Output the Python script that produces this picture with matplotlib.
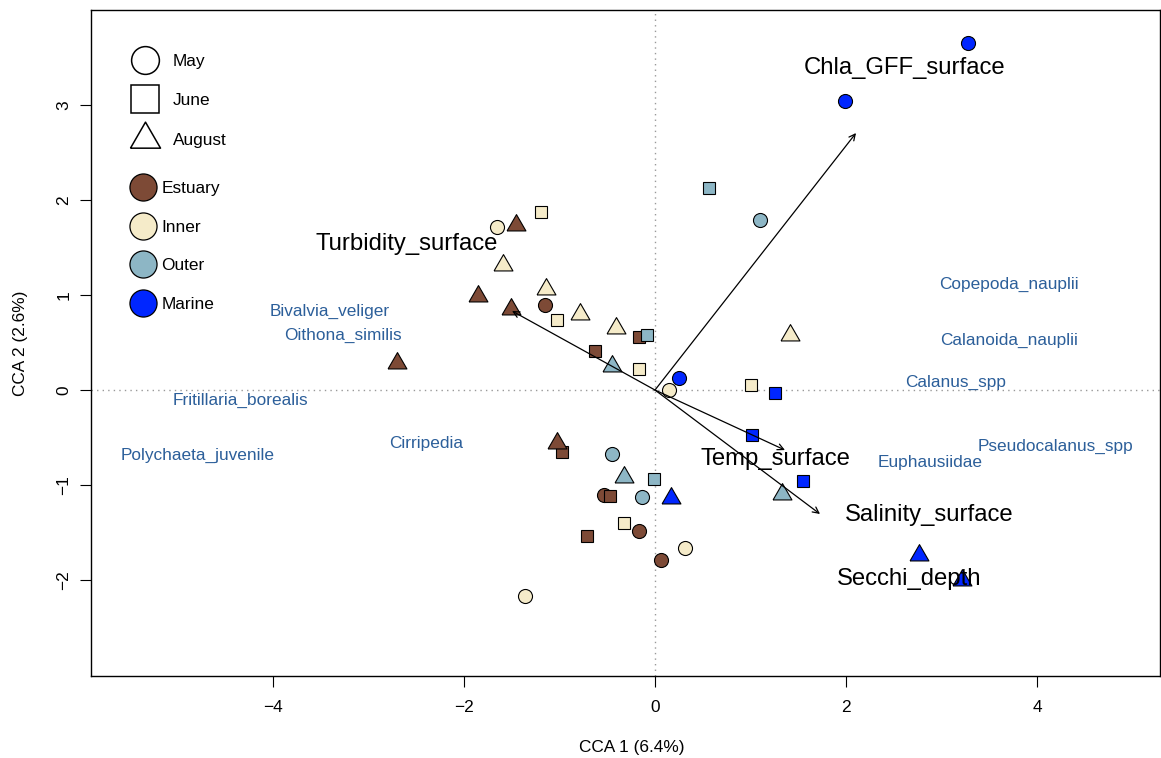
import matplotlib.pyplot as plt
from matplotlib.lines import Line2D

plt.rcParams["font.family"] = ["Liberation Sans", "DejaVu Sans"]

# site scores on the first two CCA axes (drawing order)
cca1 = [3.277, 1.990, 0.251, -1.152, -0.534, -0.168, 0.063, 1.099, -0.450, -0.136,
        -1.654, 0.147, 0.314, -1.361,
        1.016, 1.257, 1.550, -0.168, -0.628, -0.974, -0.471, -0.712, 0.565, -0.084, -0.010,
        -1.194, -1.026, -0.168, 1.005, -0.325,
        0.168, 2.764, 3.215, -1.455, -1.853, -1.508, -2.702, -1.026, -0.450, -0.325, 1.330,
        -1.592, -1.141, -0.785, -0.408, 1.414]
cca2 = [3.653, 3.042, 0.126, 0.895, -1.105, -1.484, -1.789, 1.789, -0.674, -1.126,
        1.716, 0.000, -1.663, -2.168,
        -0.474, -0.032, -0.958, 0.558, 0.411, -0.653, -1.116, -1.537, 2.126, 0.579, -0.937,
        1.874, 0.737, 0.221, 0.053, -1.400,
        -1.136, -1.736, -1.999, 1.738, 0.991, 0.854, 0.285, -0.557, 0.254, -0.915, -1.094,
        1.317, 1.064, 0.801, 0.654, 0.580]
site = (["Marine"] * 3 + ["Estuary"] * 4 + ["Outer"] * 3 + ["Inner"] * 4
        + ["Marine"] * 3 + ["Estuary"] * 5 + ["Outer"] * 3 + ["Inner"] * 5
        + ["Marine"] * 3 + ["Estuary"] * 5 + ["Outer"] * 3 + ["Inner"] * 5)
month = ["May"] * 14 + ["June"] * 16 + ["August"] * 16

# species scores (labels only)
species = ["Copepoda_nauplii", "Calanoida_nauplii", "Calanus_spp", "Pseudocalanus_spp",
           "Euphausiidae", "Bivalvia_veliger", "Oithona_similis", "Fritillaria_borealis",
           "Polychaeta_juvenile", "Cirripedia"]
sp_x = [3.707, 3.707, 3.152, 4.199, 2.880, -3.403, -3.267, -4.346, -4.785, -2.398]
sp_y = [1.116, 0.526, 0.084, -0.589, -0.758, 0.832, 0.579, -0.105, -0.684, -0.558]

# environmental biplot arrows and their labels
env_arrows = ["Chla_GFF_surface", "Turbidity_surface", "Temp_surface", "Salinity_surface"]
arrow_x = [2.105, -1.497, 1.361, 1.728]
arrow_y = [2.705, 0.832, -0.632, -1.305]
env_labels = ["Chla_GFF_surface", "Turbidity_surface", "Temp_surface", "Salinity_surface", "Secchi_depth"]
env_lab_x = [2.618, -2.597, 1.257, 2.874, 2.660]
env_lab_y = [3.390, 1.537, -0.726, -1.316, -1.989]

sites = ["Estuary", "Inner", "Outer", "Marine"]
site_colors = {"Estuary": "#7d4a36", "Inner": "#f5ebc9", "Outer": "#8db6c5", "Marine": "#0026ff"}
months = ["May", "June", "August"]

# equilateral triangle centred on its centroid (like R's pch 24)
tri = [(-1, -0.577), (1, -0.577), (0, 1.155), (-1, -0.577)]
month_markers = {"May": "o", "June": "s", "August": tri}
month_sizes = {"May": 10.1, "June": 8.9, "August": 15.7}

fig = plt.figure(figsize=(11.61, 7.58), dpi=100)
ax = fig.add_axes([0.0784, 0.1082, 0.9207, 0.8786])

ax.axhline(0, color="#999999", ls=(0, (1, 3)), lw=1, zorder=0)
ax.axvline(0, color="#999999", ls=(0, (1, 3)), lw=1, zorder=0)

for i in range(len(cca1)):
    ax.plot(cca1[i], cca2[i], ls="none", marker=month_markers[month[i]],
            ms=month_sizes[month[i]], mfc=site_colors[site[i]], mec="black", mew=0.8, zorder=2)

for name, x, y in zip(species, sp_x, sp_y):
    ax.text(x, y, name, color="#2c5f9a", fontsize=12.4, ha="center", va="center", zorder=3)

for name, x, y in zip(env_labels, env_lab_x, env_lab_y):
    ax.text(x, y, name, color="black", fontsize=17.2, ha="center", va="center", zorder=3)

for name, x, y in zip(env_arrows, arrow_x, arrow_y):
    ax.annotate("", xy=(x, y), xytext=(0, 0),
                arrowprops=dict(arrowstyle="->", lw=0.9, color="black",
                                shrinkA=0, shrinkB=0, mutation_scale=11), zorder=4)

ax.set_xlim(-5.906, 5.288)
ax.set_ylim(-3.01, 4.0)
ax.set_xticks([-4, -2, 0, 2, 4])
ax.set_yticks([-2, -1, 0, 1, 2, 3])
ax.tick_params(length=8, width=0.8, labelsize=12.4)
ax.tick_params(axis="x", pad=9)
ax.tick_params(axis="y", pad=6)
plt.setp(ax.get_yticklabels(), rotation=90, va="center")
for sp in ax.spines.values():
    sp.set_linewidth(1)

ax.set_xlabel("CCA 1 (6.4%)", fontsize=12.4)
ax.xaxis.set_label_coords(0.506, -0.108)
ax.xaxis.label.set_va("center")
ax.set_ylabel("CCA 2 (2.6%)", fontsize=12.4)
ax.yaxis.set_label_coords(-0.0664, 0.5)
ax.yaxis.label.set_va("center")

# legend for sampling month (open symbols)
month_handles = [Line2D([], [], ls="none", marker="o", ms=20, mfc="none", mec="black", mew=1.1),
                 Line2D([], [], ls="none", marker="s", ms=19.5, mfc="none", mec="black", mew=1.1),
                 Line2D([], [], ls="none", marker=tri, ms=25, mfc="none", mec="black", mew=1.1)]
leg1 = ax.legend(month_handles, months, loc="upper left", bbox_to_anchor=(0.0376, 0.934),
                 frameon=False, fontsize=12.4, handlelength=1.6, handletextpad=0.8,
                 labelspacing=1.41, borderpad=0, borderaxespad=0)
ax.add_artist(leg1)

# legend for site group (filled circles)
site_handles = [Line2D([], [], ls="none", marker="o", ms=19.5, mfc=site_colors[s], mec="black", mew=0.9)
                for s in sites]
ax.legend(site_handles, sites, loc="upper left", bbox_to_anchor=(0.037, 0.743),
          frameon=False, fontsize=12.4, handlelength=1.4, handletextpad=0.4,
          labelspacing=1.36, borderpad=0, borderaxespad=0)

fig.savefig("out.png", dpi=100)
